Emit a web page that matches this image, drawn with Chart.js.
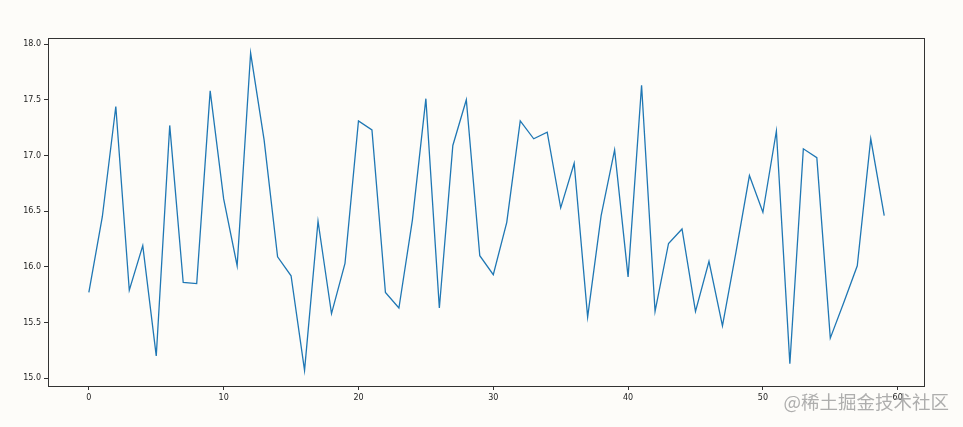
<!DOCTYPE html>
<html>
<head>
<meta charset="utf-8">
<script src="https://cdn.jsdelivr.net/npm/chart.js@4/dist/chart.umd.min.js"></script>
<style>
    html, body { margin: 0; padding: 0; background: #fdfcf9; }
    #wrap { width: 963px; height: 427px; position: relative; }
</style>
</head>
<body>
<div id="wrap"><canvas id="line-chart"></canvas></div>
<script>
// Data
const xValues = [];
for (let i = 0; i < 60; i++) xValues.push(i);
const seriesValues = [
    15.77, 16.45, 17.44, 15.79, 16.19, 15.20, 17.27, 15.86, 15.85, 17.58,
    16.61, 16.01, 17.92, 17.14, 16.09, 15.92, 15.07, 16.41, 15.58, 16.03,
    17.31, 17.23, 15.77, 15.63, 16.42, 17.51, 15.63, 17.09, 17.50, 16.10,
    15.93, 16.40, 17.31, 17.15, 17.21, 16.53, 16.93, 15.55, 16.46, 17.05,
    15.91, 17.63, 15.60, 16.21, 16.34, 15.60, 16.05, 15.47, 16.13, 16.82,
    16.49, 17.22, 15.13, 17.06, 16.98, 15.36, 15.68, 16.01, 17.15, 16.46
];
const xTicks = [0, 10, 20, 30, 40, 50, 60];
const yTicks = [15.0, 15.5, 16.0, 16.5, 17.0, 17.5, 18.0];
const watermark = '@稀土掘金技术社区';

// Draw the full axes box (matplotlib style spines) and the watermark
const framePlugin = {
    id: 'frame',
    beforeDraw(chart) {
        const ctx = chart.ctx;
        ctx.save();
        ctx.fillStyle = '#fdfcf9';
        ctx.fillRect(0, 0, chart.width, chart.height);
        ctx.restore();
    },
    afterDraw(chart) {
        const { ctx, chartArea } = chart;
        ctx.save();
        ctx.strokeStyle = '#333';
        ctx.lineWidth = 1;
        ctx.strokeRect(Math.round(chartArea.left) + 0.5, Math.round(chartArea.top) + 0.5,
            Math.round(chartArea.right - chartArea.left), Math.round(chartArea.bottom - chartArea.top));
        ctx.font = '18.5px "Noto Sans CJK SC"';
        ctx.fillStyle = 'rgba(160, 160, 160, 0.85)';
        ctx.textBaseline = 'middle';
        ctx.textAlign = 'right';
        ctx.fillText(watermark, 949, 402);
        ctx.restore();
    }
};

function initializeChart() {
    const ctx = document.getElementById('line-chart').getContext('2d');

    new Chart(ctx, {
        type: 'line',
        data: {
            labels: xValues,
            datasets: [{
                data: xValues.map((x, i) => ({ x: x, y: seriesValues[i] })),
                borderColor: '#1f77b4',
                borderWidth: 1.3,
                fill: false,
                tension: 0,
                pointRadius: 0
            }]
        },
        options: {
            responsive: true,
            maintainAspectRatio: false,
            animation: false,
            layout: {
                padding: { left: 0, top: 38, right: 39, bottom: 0 }
            },
            plugins: {
                legend: { display: false },
                tooltip: { enabled: false }
            },
            scales: {
                x: {
                    type: 'linear',
                    min: -3.03,
                    max: 61.95,
                    afterBuildTicks: (scale) => {
                        scale.ticks = xTicks.map(v => ({ value: v }));
                    },
                    afterFit: (scale) => { scale.height = 41; },
                    grid: {
                        drawOnChartArea: false,
                        drawTicks: true,
                        tickLength: 4,
                        color: '#333'
                    },
                    border: { display: false },
                    ticks: {
                        color: '#222',
                        padding: 3,
                        maxRotation: 0,
                        font: { family: 'DejaVu Sans', size: 8 },
                        callback: (value) => String(value)
                    }
                },
                y: {
                    type: 'linear',
                    min: 14.93,
                    max: 18.055,
                    afterBuildTicks: (scale) => {
                        scale.ticks = yTicks.map(v => ({ value: v }));
                    },
                    afterFit: (scale) => { scale.width = 48; },
                    grid: {
                        drawOnChartArea: false,
                        drawTicks: true,
                        tickLength: 4,
                        color: '#333'
                    },
                    border: { display: false },
                    ticks: {
                        color: '#222',
                        padding: 3,
                        font: { family: 'DejaVu Sans', size: 8 },
                        callback: (value) => Number(value).toFixed(1)
                    }
                }
            }
        },
        plugins: [framePlugin]
    });
}

document.addEventListener('DOMContentLoaded', initializeChart);
</script>
</body>
</html>
